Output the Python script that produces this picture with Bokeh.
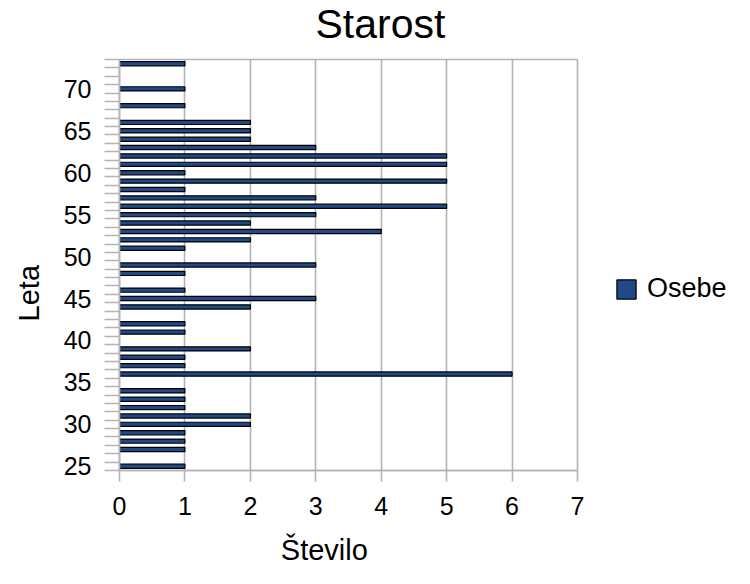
import numpy as np
from bokeh.plotting import figure
from bokeh.models import FixedTicker, Legend, LegendItem, Range1d, Title, ColumnDataSource
from bokeh.layouts import row, column
from bokeh.embed import file_html
from bokeh.resources import INLINE

# Data
ages = [25, 27, 28, 29, 30, 31, 32, 33, 34, 36, 37, 38, 39, 41, 42, 44, 45, 46, 48, 49,
        51, 52, 53, 54, 55, 56, 57, 58, 59, 60, 61, 62, 63, 64, 65, 66, 68, 70, 73]
counts = [1, 1, 1, 1, 2, 2, 1, 1, 1, 6, 1, 1, 2, 1, 1, 2, 3, 1, 1, 3,
          1, 2, 4, 2, 3, 5, 3, 1, 5, 1, 5, 5, 3, 2, 2, 2, 1, 1, 1]
y_tick_labels = [25, 30, 35, 40, 45, 50, 55, 60, 65, 70]
x_ticks = [0, 1, 2, 3, 4, 5, 6, 7]
age_min, age_max = 25, 73

FONT = "Liberation Sans"
GRAY = "#b3b3b3"
BAR = "#1f4a87"
NB = "\u00a0"

src = ColumnDataSource(dict(age=ages, count=counts))

# Title strip
pt = figure(width=734, height=51, output_backend="svg", toolbar_location=None,
            x_range=Range1d(0, 1), y_range=Range1d(0, 1),
            x_axis_location=None, y_axis_location=None,
            min_border_left=119, min_border_right=157, min_border_top=0, min_border_bottom=0)
pt.grid.grid_line_color = None
pt.outline_line_color = None
pt.title = Title(text="Starost", align="left", offset=196, text_font_size="41px",
                 text_font=FONT, text_font_style="normal", text_color="black",
                 standoff=0, vertical_align="top")

# Main chart
p = figure(width=584, height=517, output_backend="svg", toolbar_location=None,
           x_range=Range1d(0, 7), y_range=Range1d(age_min - 0.5, age_max + 0.5),
           min_border_left=119, min_border_right=7, min_border_top=8, min_border_bottom=96)

r = p.hbar(y="age", right="count", left=0, height=0.5, source=src,
           fill_color=BAR, line_color="black", line_width=1.2)

# X axis
p.xaxis.ticker = FixedTicker(ticks=x_ticks)
p.xaxis.axis_line_color = GRAY
p.xaxis.axis_line_width = 1.6
p.xaxis.major_tick_line_color = GRAY
p.xaxis.major_tick_line_width = 1.6
p.xaxis.major_tick_out = 11
p.xaxis.major_tick_in = 0
p.xaxis.minor_tick_line_color = None
p.xaxis.major_label_text_font = FONT
p.xaxis.major_label_text_font_size = "25px"
p.xaxis.major_label_text_color = "black"
p.xaxis.major_label_standoff = 15
p.xaxis.axis_label = "Število" + NB * 6
p.xaxis.axis_label_text_font = FONT
p.xaxis.axis_label_text_font_size = "29px"
p.xaxis.axis_label_text_font_style = "normal"
p.xaxis.axis_label_text_color = "black"
p.xaxis.axis_label_standoff = 16

# Y axis
minor = [age_min - 0.5 + i for i in range(age_max - age_min + 2)]
p.yaxis.ticker = FixedTicker(ticks=y_tick_labels, minor_ticks=minor)
p.yaxis.axis_line_color = GRAY
p.yaxis.axis_line_width = 1.6
p.yaxis.major_tick_line_color = None
p.yaxis.major_tick_out = 15
p.yaxis.major_tick_in = 0
p.yaxis.minor_tick_line_color = GRAY
p.yaxis.minor_tick_line_width = 1.6
p.yaxis.minor_tick_out = 15
p.yaxis.minor_tick_in = 0
p.yaxis.major_label_text_font = FONT
p.yaxis.major_label_text_font_size = "25px"
p.yaxis.major_label_text_color = "black"
p.yaxis.major_label_standoff = 13
p.yaxis.axis_label = "Leta" + NB * 7
p.yaxis.axis_label_text_font = FONT
p.yaxis.axis_label_text_font_size = "29px"
p.yaxis.axis_label_text_font_style = "normal"
p.yaxis.axis_label_text_color = "black"
p.yaxis.axis_label_standoff = 16

# Grid and outline
p.ygrid.grid_line_color = None
p.xgrid.ticker = FixedTicker(ticks=x_ticks)
p.xgrid.grid_line_color = GRAY
p.xgrid.grid_line_width = 1.6
p.outline_line_color = GRAY
p.outline_line_width = 1.6
p.background_fill_color = "white"
p.border_fill_color = "white"

# Legend panel (separate figure so the legend is not clipped by the plot frame)
p2 = figure(width=150, height=517, output_backend="svg", toolbar_location=None,
            x_range=Range1d(0, 1), y_range=Range1d(0, 1),
            x_axis_location=None, y_axis_location=None, min_border=0)
p2.grid.grid_line_color = None
p2.outline_line_color = None
p2.background_fill_color = "white"
p2.border_fill_color = "white"
legend_src = ColumnDataSource(dict(age=np.array([np.nan]), count=np.array([np.nan])))
r2 = p2.hbar(y="age", right="count", left=0, height=0.5, source=legend_src,
             fill_color=BAR, line_color="black", line_width=1.2)
legend = Legend(items=[LegendItem(label="Osebe", renderers=[r2])],
                location=(30, 166), orientation="vertical",
                glyph_width=24, glyph_height=24, label_standoff=9,
                label_text_font=FONT, label_text_font_size="27px",
                label_text_color="black", border_line_color=None,
                background_fill_color=None, margin=0, padding=10)
p2.add_layout(legend, "center")

layout = column(pt, row(p, p2, spacing=0), spacing=0)
open("out.html", "w").write(file_html(layout, INLINE))
